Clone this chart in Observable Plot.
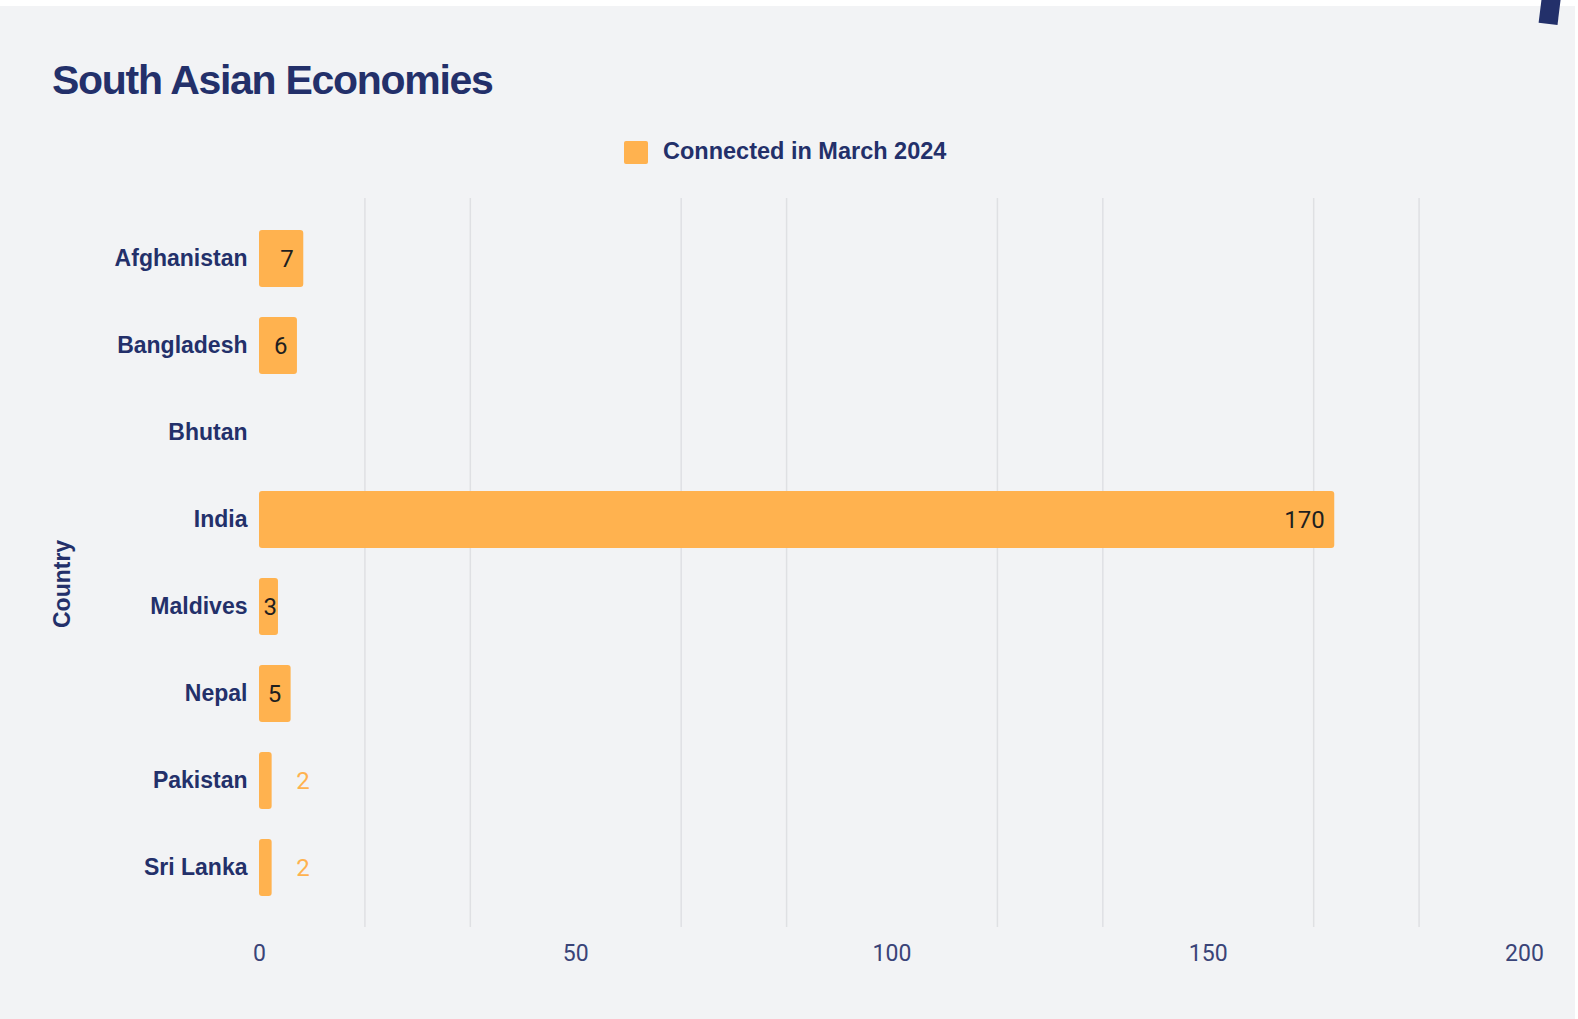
<!DOCTYPE html>
<html>
<head>
<meta charset="utf-8">
<script src="https://cdn.jsdelivr.net/npm/d3@7"></script>
<script src="https://cdn.jsdelivr.net/npm/@observablehq/plot@0.6"></script>
<style>
  html, body { margin: 0; padding: 0; background: #ffffff; overflow: hidden; }
  #page { position: relative; width: 1578px; height: 1019px; overflow: hidden; }
  #bg { position: absolute; left: 0; top: 6px; width: 1575px; height: 1013px; background: #f2f3f5; }
  #deco { position: absolute; left: 1541px; top: -16px; width: 19px; height: 40px; background: #23306a; transform: rotate(7deg); }
  #title { position: absolute; left: 52px; top: 60px; margin: 0; font-family: "Liberation Sans", Arial, sans-serif; font-weight: bold; font-size: 41px; line-height: 1; letter-spacing: -1.3px; color: #23306a; white-space: nowrap; }
  #legend { position: absolute; left: 624px; top: 140px; height: 24px; display: flex; align-items: center; }
  #legend .sw { width: 24px; height: 23px; background: #ffb24f; border-radius: 2px; margin-right: 15px; }
  #legend .lb { font-family: "Liberation Sans", Arial, sans-serif; font-weight: bold; font-size: 23.5px; line-height: 1; color: #23306a; white-space: nowrap; }
  #chart { position: absolute; left: 0; top: 190px; }
</style>
</head>
<body>
<div id="page">
  <div id="bg"></div>
  <div id="deco"></div>
  <h1 id="title">South Asian Economies</h1>
  <div id="legend"><div class="sw"></div><div class="lb" id="legendLabel"></div></div>
  <div id="chart"></div>
</div>
<script>
// ---- data ----
const countries = ["Afghanistan", "Bangladesh", "Bhutan", "India", "Maldives", "Nepal", "Pakistan", "Sri Lanka"];
const connectedMarch2024 = [7, 6, null, 170, 3, 5, 2, 2];
const seriesName = "Connected in March 2024";
const xTickValues = [0, 50, 100, 150, 200];
const yAxisTitle = "Country";

document.getElementById("legendLabel").textContent = seriesName;

const rows = countries.map((country, i) => ({country, value: connectedMarch2024[i]}));
const present = rows.filter(d => d.value != null);

const barColor = "#ffb24f";
const navy = "#23306a";

// vertical grid lines between the labelled ticks (every 50/3 units, skipping labelled ones)
const gridValues = d3.range(1, 12).filter(i => i % 3 !== 0).map(i => i * 50 / 3);

const chart = Plot.plot({
  width: 1578,
  height: 829,
  marginLeft: 259,
  marginRight: 54,
  marginTop: 8,
  marginBottom: 92,
  style: {background: "transparent", overflow: "visible", fontFamily: "Roboto, sans-serif"},
  x: {domain: [0, 200]},
  y: {domain: countries, padding: 0.35},
  marks: [
    Plot.gridX(gridValues, {stroke: "#dfe0e3", strokeOpacity: 1, strokeWidth: 1.5}),
    Plot.barX(present, {x: "value", y: "country", fill: barColor, rx: 3}),
    Plot.text(present.filter(d => d.value >= 5), {
      x: "value", y: "country", text: d => String(d.value),
      textAnchor: "end", dx: -10, fill: "#1f1f1f", fontSize: 24, fontFamily: "Roboto"
    }),
    Plot.text(present.filter(d => d.value >= 3 && d.value < 5), {
      x: 0, y: "country", text: d => String(d.value),
      textAnchor: "start", dx: 4, fill: "#1f1f1f", fontSize: 24, fontFamily: "Roboto"
    }),
    Plot.text(present.filter(d => d.value < 3), {
      x: "value", y: "country", text: d => String(d.value),
      textAnchor: "start", dx: 24, fill: barColor, fontSize: 24, fontFamily: "Roboto"
    }),
    Plot.axisX({
      ticks: xTickValues, tickSize: 0, tickPadding: 17, label: null,
      fontSize: 23, fontFamily: "Roboto", fill: "#3a4478", letterSpacing: "0.5px"
    }),
    Plot.axisY({
      tickSize: 0, tickPadding: 12, label: null,
      fontSize: 23, fontWeight: "bold", fontFamily: "Liberation Sans, Arial, sans-serif", fill: navy
    }),
    Plot.text([yAxisTitle], {
      text: d => d, frameAnchor: "left", rotate: -90, dx: -197, dy: 65,
      fontSize: 23, fontWeight: "bold", fontFamily: "Liberation Sans, Arial, sans-serif", fill: navy
    })
  ]
});
document.getElementById("chart").appendChild(chart);
</script>
</body>
</html>
